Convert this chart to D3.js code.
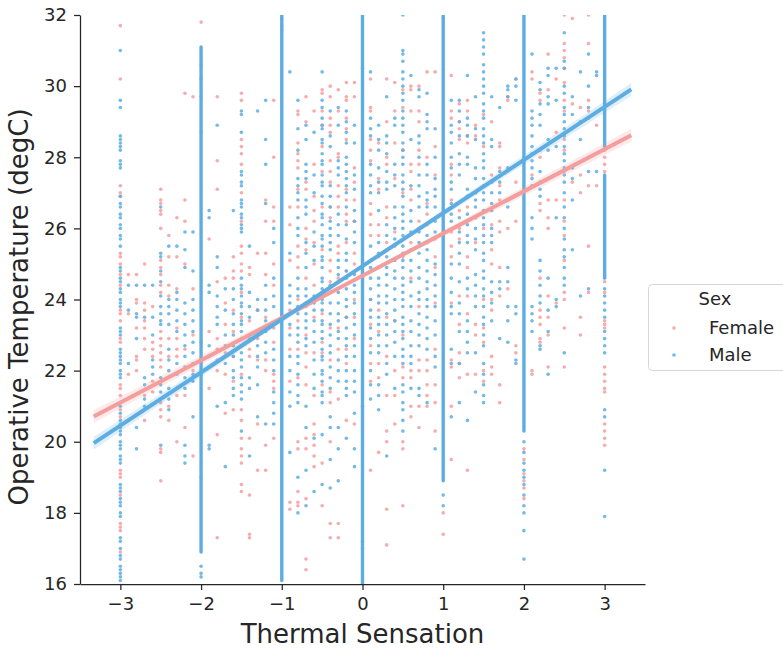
<!DOCTYPE html>
<html lang="en">
<head>
    <meta charset="UTF-8">
    <title>Operative Temperature vs Thermal Sensation</title>
    <script src="https://d3js.org/d3.v7.min.js"></script>
    <style>
        body { margin: 0; background: #fff; }
        svg { display: block; font-family: "DejaVu Sans", sans-serif; }
        .tick text { fill: #262626; font-size: 18px; }
        .tick line, .domain { stroke: #262626; stroke-width: 1.25; }
    </style>
</head>
<body>
    <div id="chart"></div>

    <script>
        // thermal sensation columns (x), one entry per 0.1 step
        const xCols = [-3.0, -2.9, -2.8, -2.7, -2.6, -2.5, -2.4, -2.3, -2.2, -2.1,
                       -2.0, -1.9, -1.8, -1.7, -1.6, -1.5, -1.4, -1.3, -1.2, -1.1,
                       -1.0, -0.9, -0.8, -0.7, -0.6, -0.5, -0.4, -0.3, -0.2, -0.1,
                        0.0, 0.1, 0.2, 0.3, 0.4, 0.5, 0.6, 0.7, 0.8, 0.9,
                        1.0, 1.1, 1.2, 1.3, 1.4, 1.5, 1.6, 1.7, 1.8, 1.9,
                        2.0, 2.1, 2.2, 2.3, 2.4, 2.5, 2.6, 2.7, 2.8, 2.9, 3.0];

        // operative temperature readings per column, female
        const femaleY = [
            [31.7,30.2,27.2,27.0,26.9,25.3,25.2,25.0,24.7,24.4,23.7,23.6,23.4,22.9,22.8,21.6,21.5,21.3,20.9,20.7,19.2,19.1,19.0,18.5,17.7,17.6,17.5,16.9],
            [24.7,23.6,21.9],
            [24.7,24.0,23.9,23.2,22.4,22.3,22.0],
            [25.0,23.9,23.7,23.4,23.2,22.9,22.6,21.3,20.6],
            [23.8,22.8,22.6,22.4,21.7,21.4],
            [27.1,26.8,26.7,26.5,26.4,26.0,25.1,24.9,24.7,24.4,24.2,23.1,22.9,22.7,22.5,22.3,22.1,21.1,20.9,20.7,19.8,19.7,18.9],
            [25.8,25.2,24.4,24.1,22.9,22.4,21.0,20.6],
            [26.3,25.2,24.3,23.2,22.9,22.6,22.4,21.3,20.0],
            [29.8,26.8,26.2,25.0,22.6,21.3,20.4],
            [29.7,24.3,23.0,22.0,19.6],
            [31.8,30.6,30.2,29.7,28.7,22.8,19.0],
            [25.7,23.1,21.5],
            [29.7,27.9,27.1,24.5,22.9,22.6,22.3,22.0,20.2,17.3],
            [24.6,23.9,23.3,22.5,21.9,20.8],
            [25.2,24.8,24.6,23.7,23.1,22.4,21.7,20.9],
            [29.8,29.6,28.5,28.3,28.1,27.8,27.0,26.2,25.5,25.3,25.0,24.8,24.2,23.5,22.7,21.9,20.9,20.6,20.1,19.8,19.6,19.4,18.8,18.6],
            [24.9,24.7,23.4,22.9,22.6,22.4,20.1,18.5,17.4,17.3],
            [25.3,23.7,22.9,22.3,20.5,19.2],
            [26.8,26.2,25.3,24.7,23.5,22.3,22.0,19.9,19.2],
            [29.6,28.0,26.6,26.2,25.0,24.4,23.2,22.8,21.9,21.7,21.5,20.1],
            [31.9,31.7,31.6],
            [26.6,26.1,25.1,23.7,23.2,22.6,21.7,18.3,18.1],
            [29.3,29.2,28.4,28.1,27.9,27.7,27.1,26.6,25.5,25.2,24.9,24.0,23.4,22.6,21.8,20.0,19.8,18.6,18.3,18.2],
            [29.7,29.0,27.3,27.1,26.0,25.7,25.4,24.6,23.8,23.0,22.5,22.1,21.6,20.1,19.8,18.4,16.7,16.4],
            [29.3,27.8,26.9,26.5,26.2,25.6,25.0,24.4,23.5,22.5,21.3,20.5,20.2,19.9,19.6,19.3],
            [29.9,29.8,29.3,28.9,28.3,27.6,26.6,25.4,24.2,23.6,22.8,22.5,21.6,19.4,18.2],
            [30.0,29.7,29.1,28.9,28.7,27.9,27.6,27.3,26.6,26.3,25.1,24.8,24.5,23.2,22.3,21.4,21.1,20.0,17.7,17.3],
            [29.9,29.3,28.1,28.0,27.2,26.9,26.6,25.5,25.3,24.6,23.2,22.6,21.2,17.7,17.3],
            [30.1,29.7,29.6,29.1,28.8,28.5,27.1,26.8,26.4,26.2,25.6,24.8,23.5,22.6,22.2,20.6],
            [30.1,29.7,27.7,27.3,26.8,26.2,25.3,25.0,24.0,23.5,22.9,20.5],
            [30.5,26.0,21.0,17.2,17.0],
            [30.2,29.4,29.3,28.5,28.2,27.9,26.7,26.4,26.1,25.8,24.8,24.0,23.3,22.7,22.2,21.7,19.2],
            [28.4,27.4,27.1,26.1,25.8,25.2,23.7,23.1,22.2,21.8,19.7],
            [30.2,29.0,28.0,27.8,26.6,26.3,25.6,25.4,23.5,22.4,21.3,20.3,20.0,18.1,17.1],
            [30.1,29.3,28.4,27.4,25.9,25.5,23.4,22.0,21.3,20.5],
            [29.9,29.4,28.2,27.0,25.2,23.0,22.1,21.8,20.0,19.8,18.2],
            [30.0,29.9,29.3,27.8,27.6,27.1,26.8,25.6,25.4,24.6,22.0,21.8,21.0,20.7],
            [30.0,29.3,29.0,28.2,27.8,26.2,26.0,23.8,22.3,22.0,21.0,20.4],
            [30.4,28.0,26.7,26.4,26.1,22.3,22.0,21.6,21.3,21.0],
            [30.4,28.3,27.5,25.7,25.2,24.9,23.9,22.6,21.6,21.1,20.3],
            [31.9,18.0,17.4],
            [30.3,29.3,29.1,27.8,27.5,26.8,25.9,25.5,25.2,23.9,22.3,22.1,21.0,19.5],
            [29.5,29.0,28.8,28.5,26.5,26.0,25.7,24.1,23.3,22.5,22.2,21.8],
            [29.6,29.3,28.6,28.4,26.9,26.6,25.2,24.9,24.1,23.6,21.9,19.2],
            [28.9,28.6,27.0,25.6,23.3,23.0,21.9],
            [29.2,28.3,26.0,24.0,23.2,22.8,22.0,21.7],
            [29.0,27.5,26.1,25.4,25.0,24.0,23.7,22.4,22.1,21.9],
            [28.4,28.3,27.7,27.2,26.8,26.2,25.9,24.9,24.1,21.6,21.1],
            [29.7,29.6,26.0,24.3],
            [30.2,27.3,26.2,22.7,22.5],
            [19.8,19.5,19.1,18.9,18.7,18.4],
            [30.4,30.2,27.5,22.0,21.9],
            [29.8,29.6,28.2,28.0,26.7,26.5,24.6,23.7,23.5,23.3,22.9,22.8],
            [30.9,29.9,26.8,26.3,26.0,24.1,23.5,23.0,22.1],
            [30.2,28.7,26.8,23.9],
            [32.0,31.2,31.0,30.8,30.5,30.1,29.6,29.3,28.5,28.2,27.6,26.8,26.2,25.8,25.1,24.2,24.0,23.2,22.1],
            [31.9,29.5,27.3],
            [29.4,27.5,27.0,23.5,23.0],
            [32.0,31.2,29.6,29.3,29.1,27.2,25.5,24.2],
            [28.9,27.2],
            [28.2,28.0,27.8,27.6,24.5,24.2,23.4,23.3,23.2,22.1,21.9,21.7,21.5,21.4,20.5,20.3,20.1,19.9]
        ];

        // operative temperature readings per column, male
        const maleY = [
            [31.0,29.6,29.4,28.6,28.5,28.4,28.3,28.2,27.9,27.8,27.7,26.9,26.7,26.6,26.4,26.3,26.1,26.0,25.8,25.7,25.5,24.9,24.8,24.6,24.5,24.3,24.2,24.0,23.9,23.8,23.2,23.1,23.0,22.6,22.5,22.4,22.3,22.2,22.0,21.9,21.8,21.1,21.0,20.8,20.6,20.5,20.4,20.3,20.2,20.0,19.9,19.8,19.6,19.5,19.4,18.8,18.7,18.6,18.4,18.3,18.2,18.0,17.9,17.3,17.2,17.0,16.8,16.7,16.5,16.4,16.3,16.2,16.1],
            [24.4,23.7,22.2,20.6],
            [24.4,23.6,23.5,22.9,20.4,19.8],
            [24.4,23.5,21.8,21.6,21.2,21.0],
            [24.4,23.5,23.0,22.3,22.1,21.9],
            [26.6,25.3,25.2,24.8,24.5,24.1,23.8,23.6,23.4,23.3,21.8,21.6,21.4,21.2,19.9],
            [25.5,24.0,23.8,23.6,23.3,22.6,22.3,22.0,21.5,21.2,20.9],
            [25.5,24.2,24.0,23.7,23.4,23.1,22.2,21.9],
            [25.9,25.4,24.9,23.9,23.6,23.3,23.0,22.7,22.4,22.1,21.8,21.5,19.9,19.6,19.4],
            [25.9,24.8,24.0,23.7,23.4,23.1,22.8,22.5,22.2,21.9,21.7,20.7],
            [16.5,16.3,16.2],
            [26.5,26.3,24.4,24.2,22.7,22.4,22.1,19.9,19.8],
            [28.9,25.2,24.9,24.1,23.8,23.5,23.3,21.0],
            [24.3,23.7,23.0,22.7,22.2,21.1,19.3],
            [26.5,24.3,24.0,23.6,23.3,23.0,22.7,22.4,22.0,21.8,21.5,21.3],
            [29.3,29.2,28.7,27.6,27.5,27.3,27.2,26.8,26.7,26.6,26.4,26.3,26.1,26.0,25.9,24.6,24.4,24.3,24.1,23.9,23.8,23.6,23.4,23.3,23.1,22.9,22.5,22.3,22.1,21.8,21.6,21.4,21.2,20.3],
            [25.5,24.2,23.8,23.5,21.8,21.5,19.6],
            [29.3,24.0,23.7,23.0,22.7,22.4,22.1,21.6,20.7],
            [29.6,28.5,27.8,26.7,24.4,24.0,23.7,23.4,23.1,22.8,22.5,20.5],
            [26.0,25.6,24.6,24.1,23.8,22.6,22.3,22.0,21.4,21.1,20.8,20.5],
            [],
            [30.4,25.3,24.4,24.1,23.9,23.6,23.3,23.0,22.4,22.0,21.4,21.0,19.7],
            [29.6,28.8,28.2,27.4,27.2,27.0,26.8,26.3,26.0,25.8,24.6,24.3,24.1,23.8,23.6,23.2,23.0,22.8,22.4,22.2,21.9,21.6,21.3,21.1,19.0,18.0],
            [28.9,28.5,27.8,27.6,27.4,26.8,26.6,26.4,25.6,25.3,24.9,24.3,24.1,23.9,23.6,23.4,23.2,22.9,22.7,21.0,20.4,19.2,18.2],
            [28.7,27.5,27.0,25.9,25.5,25.1,24.1,23.9,23.7,23.4,23.1,22.8,22.3,21.9,21.5,20.1,18.6],
            [30.4,29.6,29.4,29.1,28.9,28.8,28.5,28.4,28.1,27.9,27.8,27.5,27.3,27.2,26.9,26.7,26.4,26.3,26.1,25.8,25.7,25.5,25.2,25.1,24.9,24.6,24.5,24.3,24.0,23.9,23.7,23.4,23.3,23.1,22.9,22.6,22.4,22.3,22.0,21.9,21.7,21.4,21.3,21.1,20.2,18.8],
            [29.3,28.6,28.3,27.2,26.9,26.6,26.2,26.0,25.8,25.6,25.4,24.4,24.2,23.9,23.6,23.3,23.0,22.7,22.5,22.1,21.8,21.5,20.7,20.4,19.5,18.7],
            [29.4,28.9,27.9,27.7,27.5,26.4,26.1,25.8,25.1,24.9,24.7,24.5,24.2,23.9,23.6,23.4,23.1,22.9,22.3,22.0,21.7,20.4,19.8,18.9],
            [29.3,29.0,28.7,28.4,28.0,27.8,27.6,27.4,27.2,27.0,26.6,26.1,25.7,25.3,25.1,24.8,24.6,24.3,24.0,23.8,23.5,23.2,22.9,22.7,22.4,22.0,21.7,21.5,21.3,20.1],
            [28.9,28.4,27.5,27.1,26.5,26.2,25.9,25.6,24.7,24.4,24.2,23.9,23.6,23.3,23.0,22.7,22.4,22.0,21.7,21.4,20.8,19.8,19.3],
            [],
            [30.4,29.1,28.8,28.6,27.8,27.5,27.2,27.0,25.5,25.1,24.9,24.6,24.3,24.0,23.7,23.5,23.2,22.9,22.5,22.0,21.6,21.2],
            [28.9,28.5,28.2,27.7,27.3,27.0,26.5,25.6,25.3,24.9,24.6,24.4,24.1,23.9,23.5,23.3,23.0,22.7,22.5,21.6,21.3,20.9],
            [29.7,28.6,28.4,28.1,27.6,27.3,27.1,26.1,25.8,25.2,24.9,24.7,24.4,24.1,23.9,23.6,23.3,23.0,22.7,22.2,21.9,19.6],
            [29.1,28.9,27.8,27.5,27.2,26.6,26.3,26.0,25.7,25.1,24.8,24.6,24.3,24.0,23.7,23.4,23.1,22.8,22.4,21.5],
            [32.0,31.0,30.9,30.7,30.4,30.2,30.0,29.8,29.6,29.3,29.1,28.9,28.7,28.4,28.2,28.0,27.8,27.5,27.3,27.1,26.9,26.6,26.4,26.2,26.0,25.8,25.5,25.3,25.1,24.9,24.6,24.4,24.2,24.0,23.8,23.5,23.3,23.1,22.9,22.6,22.4,22.2,21.6,21.4,21.1,20.9,20.6,20.3],
            [30.3,28.5,27.2,26.5,26.2,25.9,25.1,24.8,24.5,24.1,23.8,23.4,23.1,22.7,22.4,22.2,21.5],
            [29.9,29.7,28.6,28.4,28.0,27.5,27.2,26.9,26.6,25.9,25.6,25.3,24.9,24.6,24.2,24.0,23.6,23.3,23.0,22.7,21.5,21.3],
            [29.8,29.2,29.0,28.8,27.8,27.5,27.0,26.8,26.6,25.8,25.6,25.4,25.1,24.8,24.5,24.3,24.0,23.8,23.5,23.2,22.9,22.6,21.1],
            [28.8,28.0,27.4,27.1,26.9,26.6,26.2,25.9,25.0,24.7,24.4,24.1,23.8,23.4,23.0,22.4,22.1,19.8],
            [18.5,18.2],
            [29.6,28.9,28.7,28.4,28.0,27.7,27.3,27.1,26.7,26.4,26.2,25.0,24.6,24.2,23.8,23.6,22.6,22.2,20.7],
            [29.6,29.3,29.0,28.6,28.1,27.8,27.5,26.3,25.9,25.6,25.3,25.0,24.5,23.9,23.6,23.1,22.2,21.1],
            [30.3,29.1,28.9,28.6,28.0,27.8,27.1,26.9,26.4,26.1,25.8,25.6,24.6,24.3,23.4,23.1,22.8,22.5,20.6],
            [29.7,28.8,28.5,27.7,27.4,27.0,26.8,26.6,26.3,26.0,25.7,25.4,24.7,24.4,24.1,23.8,22.5,21.4],
            [31.5,31.3,31.1,30.9,30.6,30.4,30.2,30.0,29.8,29.5,29.3,29.1,28.8,28.6,28.4,28.1,27.9,27.7,27.4,27.2,27.0,26.8,26.5,26.3,26.1,25.8,25.6,25.3,25.1,24.8,24.6,24.3,24.1,23.8,23.5,23.3,23.0,22.7,22.2,21.9,21.6,21.3,21.1],
            [29.7,28.5,28.3,27.3,27.0,26.7,26.5,26.0,25.8,25.6,24.5,24.2,23.9,23.4],
            [29.4,27.6,27.3,27.0,24.5,24.3,22.9],
            [30.0,29.9,29.7,27.7,26.8,26.6,24.9,24.5,23.8,23.4,22.8],
            [30.2,30.0,29.6,23.8,23.6,22.3,22.2],
            [20.0,19.7,19.4,19.2,19.0,18.8,18.5,18.2,18.0,17.5,16.7],
            [30.9,29.3,29.1,28.9,28.6,28.3,28.1,27.9,27.7,27.4,27.2,26.3,26.0,25.7,23.8,23.6,23.4,23.1],
            [30.1,29.9,29.5,29.2,28.9,27.6,27.3,27.1,26.9,25.1,24.8,24.4,24.1,23.9,22.7,22.6],
            [30.5,30.3,29.7,29.5,28.5,28.2,24.6,23.7,23.1,21.9],
            [30.5,29.6,28.3,26.3,24.0,23.8],
            [31.5,30.7,30.5,30.0,29.8,29.4,29.2,29.0,28.8,28.6,28.3,28.1,27.9,27.7,27.5,27.3,27.0,26.6,26.3,26.0,25.7,25.4,25.2,24.9,24.6,24.4,22.5],
            [29.7,29.2,27.7,27.4,26.8,25.4],
            [30.4,29.0,28.5,24.1],
            [30.9,30.0,29.4,27.6,24.3],
            [30.4,30.3,27.6],
            [24.3,24.1,23.9,23.7,23.5,23.1,22.9,22.7,22.5,20.9,20.7,19.2,17.9]
        ];

        // male columns so dense the dots merge into a solid stroke
        const runX  = [-2.0, -1.0, 0.0, 1.0, 2.0, 3.0, 3.0];
        const runLo = [16.9, 16.1, 16.0, 18.9, 20.3, 28.3, 24.6];
        const runHi = [31.1, 32.0, 32.0, 32.0, 32.0, 32.0, 27.5];

        // regression fits, with the ci half-width
        const fitX       = [-3.33, 0, 3.33];
        const femaleFitY = [20.71, 24.67, 28.62];
        const maleFitY   = [19.96, 24.94, 29.91];
        const ciHalf     = [0.18, 0.05, 0.18];

        const xTicks = [-3, -2, -1, 0, 1, 2, 3];
        const yTicks = [16, 18, 20, 22, 24, 26, 28, 30, 32];
        const sexes = ["Female", "Male"];
        const colors = {Female: "#f49d9d", Male: "#5dade2"};

        const W = 783, H = 648;
        const margin = {left: 80, right: 645, top: 15, bottom: 584};

        const x = d3.scaleLinear().domain([-3.5, 3.5]).range([margin.left, margin.right]);
        const y = d3.scaleLinear().domain([16, 32]).range([margin.bottom, margin.top]);

        const svg = d3.select("#chart").append("svg")
            .attr("width", W)
            .attr("height", H);

        svg.append("clipPath").attr("id", "plotclip")
            .append("rect")
            .attr("x", margin.left).attr("y", margin.top)
            .attr("width", margin.right - margin.left)
            .attr("height", margin.bottom - margin.top);

        const plot = svg.append("g").attr("clip-path", "url(#plotclip)");

        function points(cols) {
            const out = [];
            xCols.forEach((xv, i) => cols[i].forEach(yv => out.push({x: xv, y: yv})));
            return out;
        }

        // female scatter first, male on top (seaborn hue order)
        plot.append("g").selectAll("circle")
            .data(points(femaleY))
            .join("circle")
            .attr("cx", d => x(d.x))
            .attr("cy", d => y(d.y))
            .attr("r", 1.8)
            .attr("fill", colors.Female)
            .attr("fill-opacity", 0.85);

        plot.append("g").selectAll("line")
            .data(runX.map((xv, i) => ({x: xv, lo: runLo[i], hi: runHi[i]})))
            .join("line")
            .attr("x1", d => x(d.x)).attr("x2", d => x(d.x))
            .attr("y1", d => y(d.lo)).attr("y2", d => y(d.hi))
            .attr("stroke", colors.Male)
            .attr("stroke-width", 3.4)
            .attr("stroke-linecap", "round");

        plot.append("g").selectAll("circle")
            .data(points(maleY))
            .join("circle")
            .attr("cx", d => x(d.x))
            .attr("cy", d => y(d.y))
            .attr("r", 1.8)
            .attr("fill", colors.Male)
            .attr("fill-opacity", 0.85);

        // regression bands and lines
        const band = d3.area()
            .x(d => x(d.x))
            .y0(d => y(d.y - d.ci))
            .y1(d => y(d.y + d.ci));
        const line = d3.line().x(d => x(d.x)).y(d => y(d.y));

        [["Female", femaleFitY], ["Male", maleFitY]].forEach(([sex, fy]) => {
            const fit = fitX.map((xv, i) => ({x: xv, y: fy[i], ci: ciHalf[i]}));
            plot.append("path")
                .datum(fit)
                .attr("d", band)
                .attr("fill", colors[sex])
                .attr("fill-opacity", 0.2);
            plot.append("path")
                .datum(fit)
                .attr("d", line)
                .attr("fill", "none")
                .attr("stroke", colors[sex])
                .attr("stroke-width", 4);
        });

        // axes
        const fmt = d => (d < 0 ? "\u2212" + Math.abs(d) : String(d));

        svg.append("g")
            .attr("transform", `translate(0,${margin.bottom})`)
            .call(d3.axisBottom(x).tickValues(xTicks).tickFormat(fmt)
                .tickSize(6).tickSizeOuter(0).tickPadding(7));

        svg.append("g")
            .attr("transform", `translate(${margin.left},0)`)
            .call(d3.axisLeft(y).tickValues(yTicks).tickFormat(fmt)
                .tickSize(6).tickSizeOuter(0).tickPadding(7));

        svg.selectAll(".tick text").attr("font-family", "DejaVu Sans, sans-serif");

        svg.append("text")
            .attr("x", (margin.left + margin.right) / 2)
            .attr("y", 643)
            .attr("text-anchor", "middle")
            .attr("font-size", 26)
            .attr("fill", "#262626")
            .text("Thermal Sensation");

        svg.append("text")
            .attr("transform", "translate(28,307) rotate(-90)")
            .attr("text-anchor", "middle")
            .attr("font-size", 26)
            .attr("fill", "#262626")
            .text("Operative Temperature (degC)");

        // legend
        const legend = svg.append("g");
        legend.append("rect")
            .attr("x", 648.5).attr("y", 284.5)
            .attr("width", 160).attr("height", 86)
            .attr("rx", 4)
            .attr("fill", "#fff")
            .attr("stroke", "#d6d6d6");
        legend.append("text")
            .attr("x", 715).attr("y", 305)
            .attr("text-anchor", "middle")
            .attr("font-size", 18)
            .attr("fill", "#262626")
            .text("Sex");
        sexes.forEach((s, i) => {
            legend.append("circle")
                .attr("cx", 674).attr("cy", 328 + i * 27)
                .attr("r", 1.8)
                .attr("fill", colors[s])
                .attr("fill-opacity", 0.85);
            legend.append("text")
                .attr("x", 709).attr("y", 334 + i * 27)
                .attr("font-size", 18)
                .attr("fill", "#262626")
                .text(s);
        });
    </script>
</body>
</html>
